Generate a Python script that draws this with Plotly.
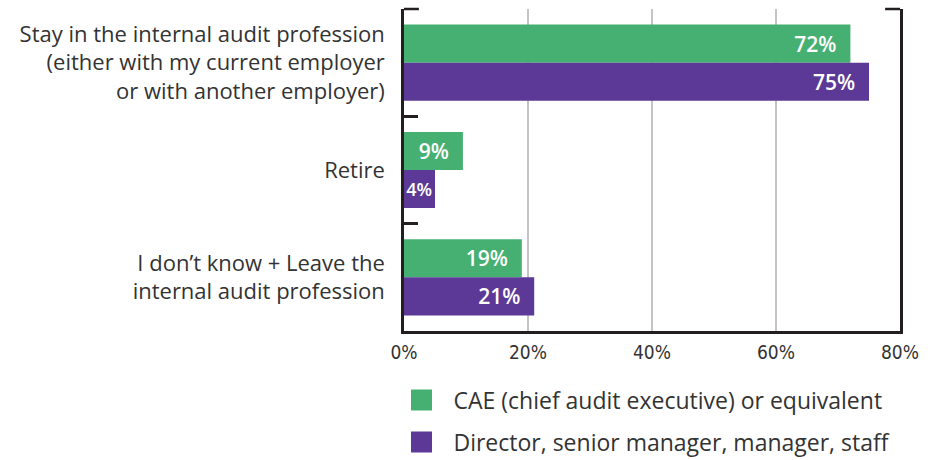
import plotly.graph_objects as go

# categories, top to bottom
categories = [
    "Stay in the internal audit profession<br>(either with my current employer<br>or with another employer)",
    "Retire",
    "I don’t know + Leave the<br>internal audit profession",
]

# bar lengths as drawn in the source chart, and the printed labels
cae_values = [72, 9.5, 19]
staff_values = [75, 5, 21]
cae_labels = ["72%", "9%", "19%"]
staff_labels = ["75%", "4%", "21%"]

series_names = [
    "CAE (chief audit executive) or equivalent",
    "Director, senior manager, manager, staff",
]

x_ticks = [0, 20, 40, 60, 80]
x_tick_labels = ["0%", "20%", "40%", "60%", "80%"]

GREEN = "#45b071"
PURPLE = "#5c3996"
TEXT = "#333333"
AXIS = "#231f20"
FONT = "Open Sans"
NARROW = "Arial Narrow, Liberation Sans Narrow, DejaVu Sans Condensed, Roboto"

pad = "\u00a0\u00a0"


def bar_text(labels, vals):
    # tiny bars get no padding and a slightly smaller label so it still fits
    text = [t if v < 6 else t + pad for t, v in zip(labels, vals)]
    sizes = [18 if v < 6 else 21 for v in vals]
    return text, sizes


fig = go.Figure()

for vals, labels, color, name in [
    (cae_values, cae_labels, GREEN, series_names[0]),
    (staff_values, staff_labels, PURPLE, series_names[1]),
]:
    text, sizes = bar_text(labels, vals)
    fig.add_trace(go.Bar(
        y=categories, x=vals, orientation="h",
        marker=dict(color=color, line=dict(width=0)),
        text=text,
        textposition="inside", insidetextanchor="end",
        constraintext="none", textangle=0, cliponaxis=False,
        textfont=dict(family=FONT, size=sizes, color="white", weight=600),
        showlegend=False, hoverinfo="skip",
    ))
    # legend proxy with a bigger square than the default bar swatch
    fig.add_trace(go.Scatter(
        x=[None], y=[None], mode="markers", name="\u00a0\u00a0" + name,
        marker=dict(symbol="square", size=16, color=color, line=dict(color=color, width=5)),
        legendgroup=name,
    ))

fig.update_layout(
    width=930, height=460,
    margin=dict(l=404, r=30, t=9, b=129, autoexpand=False),
    paper_bgcolor="white", plot_bgcolor="white",
    barmode="group", bargap=0.29, bargroupgap=0,
    font=dict(family=FONT, size=19, color=TEXT),
    legend=dict(
        x=-0.005, xanchor="left", y=-0.148, yanchor="top",
        orientation="v", tracegroupgap=9,
        font=dict(family=FONT, size=23, color=TEXT),
        bgcolor="rgba(0,0,0,0)",
    ),
    xaxis=dict(
        range=[0, 80], tickvals=x_ticks, ticktext=x_tick_labels,
        showgrid=True, gridcolor="#c4c4c4", gridwidth=2,
        zeroline=False, showline=True, linecolor=AXIS, linewidth=2.5,
        ticks="", ticklabelstandoff=2,
        tickfont=dict(family=NARROW, size=19, color=TEXT),
        fixedrange=True,
    ),
    yaxis=dict(
        autorange="reversed", showgrid=False, zeroline=False,
        showline=True, linecolor=AXIS, linewidth=2.5, mirror=True,
        ticks="inside", tickson="boundaries", ticklen=14, tickwidth=2.5, tickcolor=AXIS,
        ticklabelstandoff=12,
        tickfont=dict(family=FONT, size=22, color=TEXT),
        fixedrange=True,
    ),
    shapes=[
        # short ticks at the top corners of the frame
        dict(type="line", xref="paper", yref="paper", x0=0.0, x1=0.03, y0=1, y1=1,
             line=dict(color=AXIS, width=2.5)),
        dict(type="line", xref="paper", yref="paper", x0=0.97, x1=1.0, y0=1, y1=1,
             line=dict(color=AXIS, width=2.5)),
    ],
)

fig.write_html(
    "out.html",
    config={"displayModeBar": False},
    post_script="document.body.style.margin='0';",
)
